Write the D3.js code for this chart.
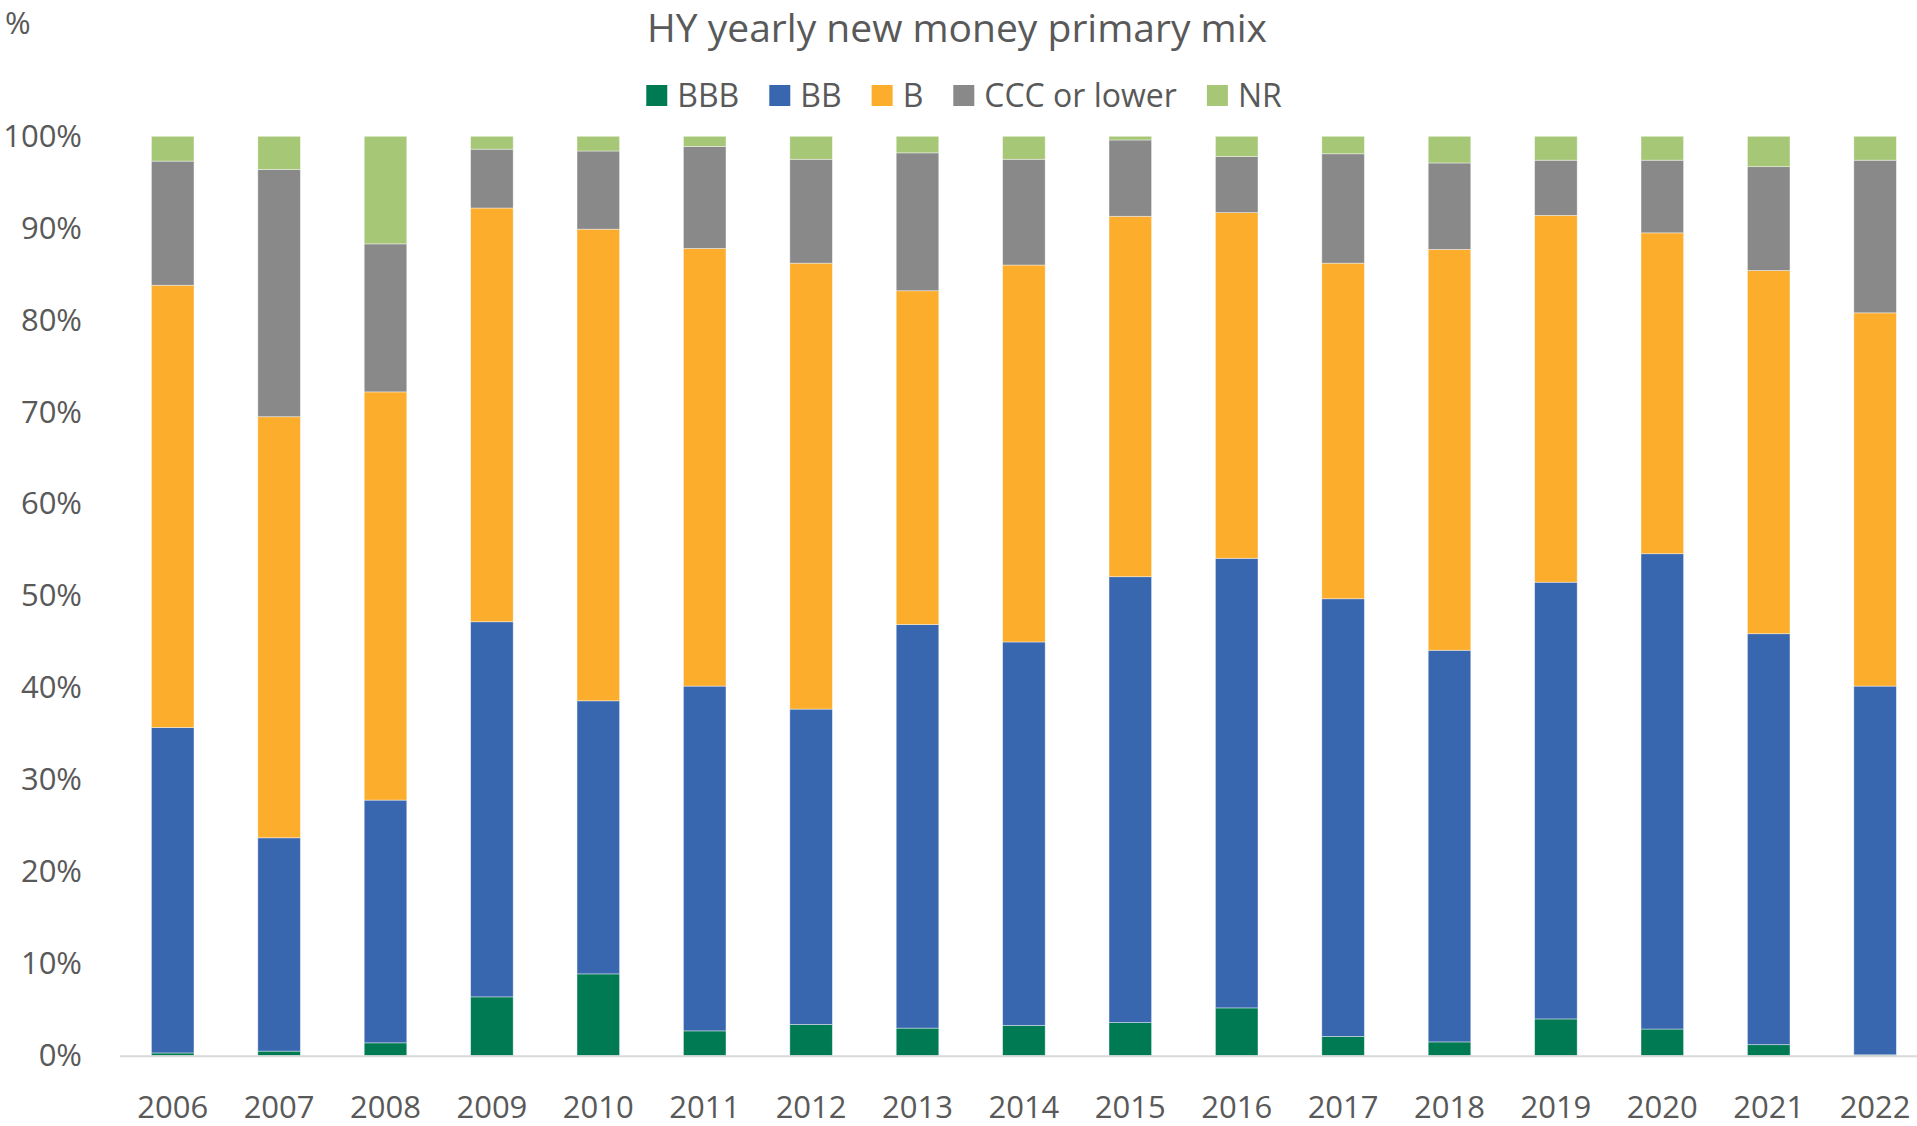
<!DOCTYPE html>
<html>
<head>
<meta charset="utf-8">
<script src="https://cdn.jsdelivr.net/npm/d3@7"></script>
<style>
  body { margin: 0; background: #fff; }
  text { font-family: "Open Sans", "Noto Sans", sans-serif; fill: #595959; }
</style>
</head>
<body>
<div id="chartDiv"></div>
<script>
// data, % of yearly new money issuance
var years = ['2006', '2007', '2008', '2009', '2010', '2011', '2012', '2013', '2014',
  '2015', '2016', '2017', '2018', '2019', '2020', '2021', '2022'];
var bbb = [0.3, 0.5, 1.4, 6.4, 8.9, 2.7, 3.4, 3.0, 3.3, 3.6, 5.2, 2.1, 1.5, 4.0, 2.9, 1.2, 0.1];
var bb  = [35.4, 23.2, 26.4, 40.8, 29.7, 37.5, 34.3, 43.9, 41.7, 48.5, 48.9, 47.6, 42.6, 47.5, 51.7, 44.7, 40.1];
var b   = [48.1, 45.8, 44.4, 45.0, 51.3, 47.6, 48.5, 36.3, 41.0, 39.2, 37.6, 36.5, 43.6, 39.9, 34.9, 39.5, 40.6];
var ccc = [13.5, 26.9, 16.1, 6.4, 8.5, 11.1, 11.3, 15.0, 11.5, 8.3, 6.1, 11.9, 9.4, 6.0, 7.9, 11.3, 16.6];
var nr  = [2.7, 3.6, 11.7, 1.4, 1.6, 1.1, 2.5, 1.8, 2.5, 0.4, 2.2, 1.9, 2.9, 2.6, 2.6, 3.3, 2.6];
var yTicks = [0, 10, 20, 30, 40, 50, 60, 70, 80, 90, 100];

var seriesNames = ['BBB', 'BB', 'B', 'CCC or lower', 'NR'];
var seriesValues = [bbb, bb, b, ccc, nr];
var color = {'BBB': '#007a53', 'BB': '#3867b0', 'B': '#fcad2c', 'CCC or lower': '#898989', 'NR': '#a6c776'};

var width = 1917, height = 1126;
var svg = d3.select('#chartDiv').append('svg').attr('width', width).attr('height', height);

var margin = {top: 136.3, left: 119.5};
var plotBottom = 1055.7;

// table for the stack layout
var table = years.map(function (yr, i) {
  var row = {year: yr};
  seriesNames.forEach(function (s, j) { row[s] = seriesValues[j][i]; });
  return row;
});
var stacked = d3.stack().keys(seriesNames)(table);

var x = d3.scaleBand().domain(years).range([119.5, 1928.3]).paddingInner(0.6).paddingOuter(0.3);
var y = d3.scaleLinear().domain([0, 100]).range([plotBottom, margin.top]);

// bars
var layers = svg.selectAll('.layer')
  .data(stacked)
  .enter().append('g')
  .attr('class', 'layer')
  .attr('fill', function (d) { return color[d.key]; });

layers.selectAll('rect')
  .data(function (d) { return d; })
  .enter().append('rect')
  .attr('x', function (d) { return x(d.data.year); })
  .attr('y', function (d) { return y(d[1]); })
  .attr('width', x.bandwidth())
  .attr('height', function (d) { return y(d[0]) - y(d[1]); })
  .attr('stroke', '#ffffff')
  .attr('stroke-opacity', 0.5)
  .attr('stroke-width', 0.8);

// y axis, labels only
var yAxis = svg.append('g')
  .attr('transform', 'translate(' + margin.left + ',0)')
  .call(d3.axisLeft(y).tickValues(yTicks).tickSize(0).tickPadding(37.5)
    .tickFormat(function (d) { return d + '%'; }));
yAxis.select('.domain').remove();
yAxis.selectAll('text').style('font-size', '31px').attr('fill', '#595959');

// x axis
var xAxis = svg.append('g')
  .attr('transform', 'translate(0,' + plotBottom + ')')
  .call(d3.axisBottom(x).tickSize(0).tickPadding(40));
xAxis.select('.domain').attr('stroke', '#d9d9d9').attr('stroke-width', 2);
xAxis.selectAll('text').style('font-size', '31px').attr('fill', '#595959');

// title and unit
svg.append('text')
  .attr('x', 957)
  .attr('y', 42)
  .style('text-anchor', 'middle')
  .style('font-size', '39px')
  .text('HY yearly new money primary mix');

svg.append('text')
  .attr('x', 5)
  .attr('y', 34)
  .style('font-size', '31px')
  .text('%');

// legend
var legend = svg.append('g').attr('class', 'legend');
var lx = 0;
seriesNames.forEach(function (s) {
  var item = legend.append('g').attr('transform', 'translate(' + lx + ',0)');
  item.append('rect')
    .attr('x', 0).attr('y', 85)
    .attr('width', 21).attr('height', 21)
    .attr('fill', color[s]);
  var t = item.append('text')
    .attr('x', 31).attr('y', 106.5)
    .style('font-size', '32px')
    .text(s);
  lx += 31 + t.node().getComputedTextLength() + 30;
});
var legendW = lx - 30;
legend.attr('transform', 'translate(' + (964 - legendW / 2) + ',0)');
</script>
</body>
</html>
